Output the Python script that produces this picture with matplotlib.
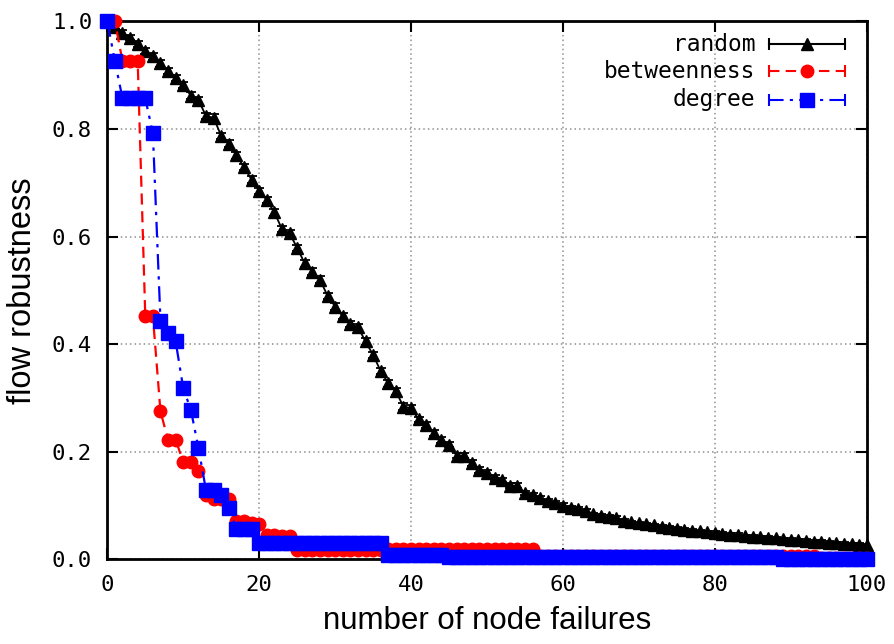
import matplotlib
matplotlib.use("Agg")
import matplotlib.pyplot as plt

# x = number of node failures
failures = list(range(101))

# random failures (mean, with small error bars)
random_mean = [
    1.000, 0.990, 0.979, 0.970, 0.958, 0.945, 0.935, 0.922, 0.908, 0.895,
    0.882, 0.862, 0.854, 0.824, 0.821, 0.787, 0.773, 0.751, 0.729, 0.706,
    0.685, 0.668, 0.645, 0.614, 0.606, 0.579, 0.550, 0.535, 0.520, 0.490,
    0.470, 0.452, 0.437, 0.432, 0.405, 0.380, 0.350, 0.327, 0.312, 0.284,
    0.281, 0.260, 0.250, 0.235, 0.222, 0.213, 0.193, 0.193, 0.179, 0.166,
    0.161, 0.151, 0.148, 0.137, 0.137, 0.123, 0.120, 0.114, 0.108, 0.105,
    0.100, 0.096, 0.093, 0.090, 0.084, 0.081, 0.079, 0.077, 0.072, 0.069,
    0.067, 0.065, 0.063, 0.061, 0.059, 0.057, 0.055, 0.053, 0.052, 0.050,
    0.049, 0.047, 0.046, 0.045, 0.043, 0.042, 0.041, 0.040, 0.039, 0.037,
    0.036, 0.035, 0.034, 0.033, 0.032, 0.031, 0.030, 0.029, 0.028, 0.027,
    0.026,
]
random_err = [
    0.000, 0.004, 0.005, 0.005, 0.005, 0.006, 0.006, 0.006, 0.006, 0.006,
    0.006, 0.006, 0.006, 0.006, 0.006, 0.006, 0.006, 0.006, 0.006, 0.006,
    0.006, 0.006, 0.006, 0.006, 0.006, 0.006, 0.006, 0.006, 0.006, 0.006,
    0.006, 0.006, 0.006, 0.006, 0.006, 0.006, 0.006, 0.006, 0.006, 0.006,
    0.006, 0.005, 0.005, 0.005, 0.005, 0.005, 0.005, 0.005, 0.005, 0.005,
    0.005, 0.005, 0.004, 0.004, 0.004, 0.004, 0.004, 0.004, 0.004, 0.004,
    0.004, 0.004, 0.004, 0.004, 0.003, 0.003, 0.003, 0.003, 0.003, 0.003,
    0.003, 0.003, 0.003, 0.003, 0.003, 0.003, 0.003, 0.003, 0.003, 0.003,
    0.003, 0.003, 0.003, 0.003, 0.003, 0.003, 0.003, 0.003, 0.003, 0.003,
    0.003, 0.003, 0.003, 0.003, 0.003, 0.003, 0.003, 0.003, 0.003, 0.003,
    0.003,
]

# targeted attack by betweenness
betweenness = [
    1.000, 1.000, 0.926, 0.926, 0.926, 0.452, 0.452, 0.275, 0.222, 0.222,
    0.181, 0.181, 0.165, 0.120, 0.113, 0.113, 0.113, 0.071, 0.071, 0.068,
    0.065, 0.046, 0.046, 0.044, 0.043, 0.017, 0.017, 0.017, 0.017, 0.017,
    0.017, 0.017, 0.017, 0.017, 0.017, 0.017, 0.017, 0.019, 0.019, 0.019,
    0.019, 0.019, 0.019, 0.019, 0.019, 0.019, 0.019, 0.019, 0.019, 0.019,
    0.019, 0.019, 0.019, 0.019, 0.019, 0.019, 0.019, 0.0055, 0.0055, 0.0055,
    0.0055, 0.0055, 0.0055, 0.0055, 0.0055, 0.0055, 0.0055, 0.0055, 0.0055, 0.0055,
    0.0055, 0.0055, 0.0055, 0.0055, 0.0055, 0.0055, 0.0055, 0.0055, 0.0055, 0.0055,
    0.0055, 0.0055, 0.0055, 0.0055, 0.0055, 0.0055, 0.0055, 0.0055, 0.0055, 0.0055,
    0.0055, 0.0055, 0.0055, 0.0055, 0.002, 0.002, 0.002, 0.002, 0.002, 0.002,
    0.002,
]

# targeted attack by degree
degree = [
    1.000, 0.926, 0.857, 0.857, 0.857, 0.857, 0.792, 0.444, 0.420, 0.405,
    0.318, 0.278, 0.207, 0.128, 0.128, 0.120, 0.096, 0.057, 0.057, 0.057,
    0.031, 0.031, 0.031, 0.031, 0.031, 0.031, 0.031, 0.031, 0.031, 0.031,
    0.031, 0.031, 0.031, 0.031, 0.031, 0.031, 0.031, 0.008, 0.008, 0.008,
    0.008, 0.008, 0.008, 0.008, 0.008, 0.004, 0.004, 0.004, 0.004, 0.004,
    0.004, 0.004, 0.004, 0.004, 0.004, 0.004, 0.004, 0.004, 0.004, 0.004,
    0.004, 0.004, 0.004, 0.004, 0.004, 0.004, 0.004, 0.004, 0.004, 0.004,
    0.004, 0.004, 0.004, 0.004, 0.004, 0.004, 0.004, 0.004, 0.004, 0.004,
    0.004, 0.004, 0.004, 0.004, 0.004, 0.004, 0.004, 0.004, 0.004, 0.001,
    0.001, 0.001, 0.001, 0.001, 0.001, 0.001, 0.001, 0.001, 0.001, 0.001,
    0.001,
]

x_ticks = [0, 20, 40, 60, 80, 100]
y_ticks = [0.0, 0.2, 0.4, 0.6, 0.8, 1.0]
series_names = ["random", "betweenness", "degree"]

MONO = "DejaVu Sans Mono"
SANS = "Liberation Sans"

fig = plt.figure(figsize=(8.95, 6.44), dpi=100)
ax = fig.add_axes([0.1199, 0.1315, 0.8485, 0.8352])

# --- data ---
eb = ax.errorbar(failures, random_mean, yerr=random_err, color="black",
                 marker="^", markersize=9, linewidth=1.3, elinewidth=1.3,
                 capsize=3.5, capthick=1.3, zorder=3)
eb.lines[0].set_clip_on(False)

ax.plot(failures, betweenness, color="red", linestyle=(0, (5, 3)),
        linewidth=1.6, marker="o", markersize=9, zorder=4, clip_on=False)
ax.plot(failures, degree, color="blue", linestyle=(0, (7, 3, 1.5, 3)),
        linewidth=1.6, marker="s", markersize=9.5, zorder=5, clip_on=False)

# --- axes ---
ax.set_xlim(0, 100)
ax.set_ylim(0, 1)
ax.set_xticks(x_ticks)
ax.set_yticks(y_ticks)
ax.set_xticklabels([str(v) for v in x_ticks], fontfamily=MONO, fontsize=16)
ax.set_yticklabels(["%.1f" % v for v in y_ticks], fontfamily=MONO, fontsize=16)
ax.tick_params(direction="in", length=8, width=1.5, top=True, right=True)
ax.tick_params(axis="x", pad=11)
ax.tick_params(axis="y", pad=11)
for s in ax.spines.values():
    s.set_linewidth(2)
ax.grid(True, color="#909090", linestyle=(0, (1, 2)), linewidth=1.1)
ax.set_axisbelow(True)

ax.set_xlabel("number of node failures", fontfamily=SANS, fontsize=22.5, labelpad=8)
ax.set_ylabel("flow robustness", fontfamily=SANS, fontsize=23.5, labelpad=10)

# --- gnuplot-style key (top right) ---
key_rows = [0.958, 0.907, 0.854]
key_styles = [
    dict(color="black", ls="-", marker="^", ms=9),
    dict(color="red", ls=(0, (5, 3)), marker="o", ms=9),
    dict(color="blue", ls=(0, (7, 3, 1.5, 3)), marker="s", ms=9.5),
]
for name, yk, st in zip(series_names, key_rows, key_styles):
    ax.text(0.853, yk, name, transform=ax.transAxes, ha="right", va="center",
            fontfamily=MONO, fontsize=16.5, zorder=6)
    ax.plot([0.871, 0.971], [yk, yk], transform=ax.transAxes, color=st["color"],
            linestyle=st["ls"], linewidth=1.5, zorder=6, clip_on=False)
    ax.plot([0.871, 0.971], [yk, yk], transform=ax.transAxes, color=st["color"],
            linestyle="none", marker="|", markersize=8, markeredgewidth=1.5,
            zorder=6, clip_on=False)
    ax.plot([0.921], [yk], transform=ax.transAxes, color=st["color"],
            linestyle="none", marker=st["marker"], markersize=st["ms"],
            zorder=7, clip_on=False)

fig.savefig("out.png", dpi=100)
